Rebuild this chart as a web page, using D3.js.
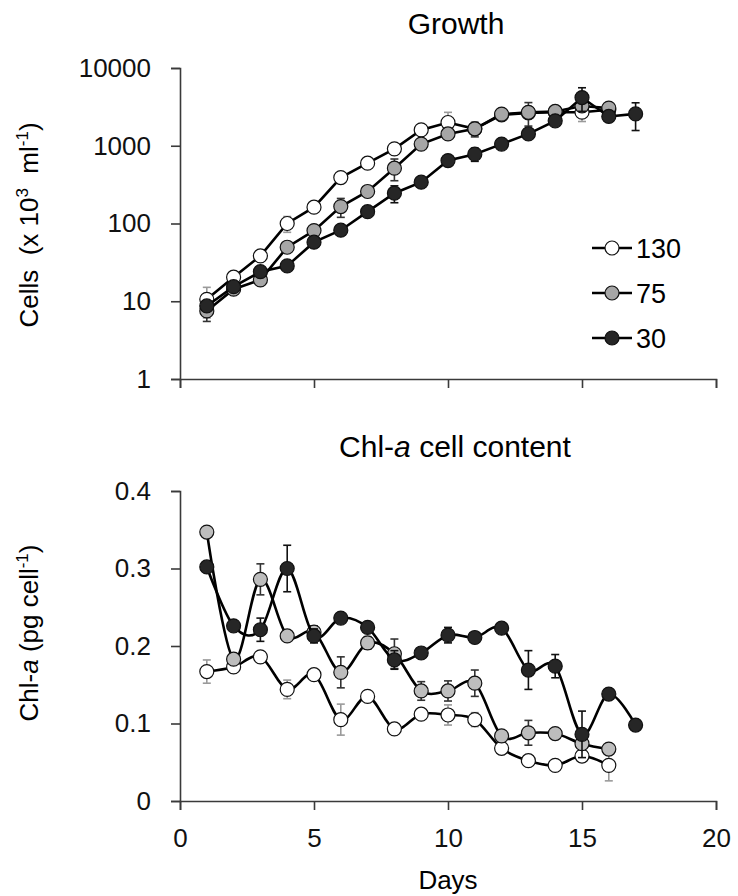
<!DOCTYPE html>
<html>
<head>
<meta charset="utf-8">
<script src="https://cdn.jsdelivr.net/npm/d3@7"></script>
<style>
  body { margin: 0; background: #fff; }
  svg { display: block; font-family: Arial, 'Liberation Sans', sans-serif; }
</style>
</head>
<body>
<div id="chart"></div>
<script>
// days of the culture
const days = [1, 2, 3, 4, 5, 6, 7, 8, 9, 10, 11, 12, 13, 14, 15, 16, 17]

// Growth, cells (x 10^3 ml-1)
const growth130 = [10.6, 20.4, 38.3, 100, 162, 390, 597, 912, 1600, 1990, 1650, 2500, 2650, 2700, 2700, 2900]
const growth130Err = [4.5, null, null, 23, null, null, null, null, null, 700, null, null, null, null, 650, null]
const growth75 = [7.5, 14.3, 18.8, 49.5, 81, 165, 258, 515, 1050, 1420, 1650, 2550, 2690, 2760, 3250, 3050]
const growth75Err = [2, null, null, null, null, 45, null, 160, null, null, 350, null, 900, null, null, null]
const growth30 = [8.7, 15.4, 24, 28.5, 57.5, 82, 142, 245, 340, 645, 780, 1050, 1420, 2090, 4170, 2380, 2570]
const growth30Err = [null, null, null, null, null, null, null, 60, null, null, 150, null, null, null, 1400, null, 1000]

// Chl-a cell content (pg cell-1)
const chl130 = [0.167, 0.173, 0.186, 0.144, 0.163, 0.105, 0.135, 0.093, 0.112, 0.111, 0.105, 0.068, 0.052, 0.046, 0.058, 0.046]
const chl130Err = [0.015, null, 0.007, 0.012, null, 0.02, null, null, null, 0.013, 0.009, null, null, null, null, 0.02]
const chl75 = [0.347, 0.183, 0.286, 0.213, 0.218, 0.166, 0.204, 0.19, 0.142, 0.142, 0.152, 0.084, 0.088, 0.087, 0.074, 0.067]
const chl75Err = [null, 0.005, 0.02, null, 0.008, 0.02, 0.008, 0.019, 0.012, 0.013, 0.017, null, 0.016, null, null, null]
const chl30 = [0.302, 0.226, 0.221, 0.300, 0.213, 0.236, 0.224, 0.182, 0.191, 0.214, 0.211, 0.223, 0.169, 0.174, 0.086, 0.138, 0.098]
const chl30Err = [null, null, 0.015, 0.03, 0.009, null, null, 0.012, null, 0.01, null, null, 0.025, 0.015, 0.03, null, null]

const seriesNames = ['130', '75', '30']
const xTicks = [0, 5, 10, 15, 20]
const growthTicks = [1, 10, 100, 1000, 10000]
const chlTicks = [0, 0.1, 0.2, 0.3, 0.4]

const width = 738
const height = 896
const markerFill = { '130': '#ffffff', '75': '#a6a6a6', '30': '#262626' }
const markerFillChl = { '130': '#ffffff', '75': '#bdbdbd', '30': '#262626' }
const errColor = { '130': '#9a9a9a', '75': '#333', '30': '#111' }

const svg = d3.select('#chart').append('svg')
  .attr('width', width)
  .attr('height', height)

const x = d3.scaleLinear().domain([0, 20]).range([180, 716])
const yGrowth = d3.scaleLog().domain([1, 10000]).range([379, 68])
const yChl = d3.scaleLinear().domain([0, 0.4]).range([801, 491])

const toPoints = (values, errs) => values.map((v, i) => ({ day: days[i], v, err: errs[i] }))

function styleAxis(g) {
  g.selectAll('path.domain').attr('stroke', '#3a3a3a').attr('stroke-width', 1.6)
  g.selectAll('.tick line').attr('stroke', '#3a3a3a').attr('stroke-width', 1.6)
  g.selectAll('.tick text').attr('font-size', 26).attr('fill', '#111')
    .attr('font-family', 'Arial, Liberation Sans, sans-serif')
}

function drawPanel({ y, yTickValues, yFormat, showXLabels, series, curve, fills }) {
  // axes
  svg.append('g')
    .attr('transform', `translate(0,${y.range()[0]})`)
    .call(d3.axisBottom(x).tickValues(xTicks).tickSize(9).tickSizeOuter(9).tickPadding(19)
      .tickFormat(d => showXLabels ? d : ''))
    .call(styleAxis)

  svg.append('g')
    .attr('transform', `translate(${x(0)},0)`)
    .call(d3.axisLeft(y).tickValues(yTickValues).tickSize(9).tickSizeOuter(9).tickPadding(20)
      .tickFormat(yFormat))
    .call(styleAxis)

  const line = d3.line()
    .x(d => x(d.day))
    .y(d => y(d.v))
    .curve(curve)

  series.forEach(({ name, points }) => {
    const g = svg.append('g').attr('class', `series s${name}`)

    const bars = points.filter(d => d.err != null)
    const low = d => y(Math.max(d.v - d.err, y.domain()[0]))
    const high = d => y(d.v + d.err)
    const eb = g.selectAll('g.err').data(bars).join('g')
      .attr('class', 'err')
      .attr('stroke', errColor[name])
      .attr('stroke-width', 1.6)
    eb.append('line')
      .attr('x1', d => x(d.day)).attr('x2', d => x(d.day))
      .attr('y1', low).attr('y2', high)
    eb.append('line')
      .attr('x1', d => x(d.day) - 4).attr('x2', d => x(d.day) + 4)
      .attr('y1', high).attr('y2', high)
    eb.append('line')
      .attr('x1', d => x(d.day) - 4).attr('x2', d => x(d.day) + 4)
      .attr('y1', low).attr('y2', low)

    g.append('path')
      .datum(points)
      .attr('fill', 'none')
      .attr('stroke', '#000')
      .attr('stroke-width', 2.6)
      .attr('d', line)

    g.selectAll('circle')
      .data(points)
      .join('circle')
      .attr('cx', d => x(d.day))
      .attr('cy', d => y(d.v))
      .attr('r', 7)
      .attr('fill', fills[name])
      .attr('stroke', '#111')
      .attr('stroke-width', 1.2)
  })
}

drawPanel({
  y: yGrowth,
  yTickValues: growthTicks,
  yFormat: d => d,
  showXLabels: false,
  curve: d3.curveLinear,
  fills: markerFill,
  series: [
    { name: '130', points: toPoints(growth130, growth130Err) },
    { name: '75', points: toPoints(growth75, growth75Err) },
    { name: '30', points: toPoints(growth30, growth30Err) }
  ]
})

drawPanel({
  y: yChl,
  yTickValues: chlTicks,
  yFormat: d => d === 0 ? '0' : d3.format('.1f')(d),
  showXLabels: true,
  curve: d3.curveCardinal.tension(0),
  fills: markerFillChl,
  series: [
    { name: '130', points: toPoints(chl130, chl130Err) },
    { name: '75', points: toPoints(chl75, chl75Err) },
    { name: '30', points: toPoints(chl30, chl30Err) }
  ]
})

// titles
svg.append('text')
  .attr('x', 456).attr('y', 34)
  .attr('text-anchor', 'middle')
  .attr('font-size', 30)
  .text('Growth')

const chlTitle = svg.append('text')
  .attr('x', 455).attr('y', 457)
  .attr('text-anchor', 'middle')
  .attr('font-size', 30)
chlTitle.append('tspan').text('Chl-')
chlTitle.append('tspan').attr('font-style', 'italic').text('a')
chlTitle.append('tspan').text(' cell content')

// y axis titles (non-breaking spaces keep the double gaps)
const cellsLabel = svg.append('text')
  .attr('transform', 'translate(38,225) rotate(-90)')
  .attr('text-anchor', 'middle')
  .attr('font-size', 26)
cellsLabel.append('tspan').text('Cells\u00a0\u00a0(x 10')
cellsLabel.append('tspan').attr('font-size', 17).attr('dy', -10).text('3')
cellsLabel.append('tspan').attr('dy', 10).text('\u00a0\u00a0ml')
cellsLabel.append('tspan').attr('font-size', 17).attr('dy', -10).text('-1')
cellsLabel.append('tspan').attr('dy', 10).text(')')

const chlLabel = svg.append('text')
  .attr('transform', 'translate(38,633) rotate(-90)')
  .attr('text-anchor', 'middle')
  .attr('font-size', 26)
chlLabel.append('tspan').text('Chl-')
chlLabel.append('tspan').attr('font-style', 'italic').text('a')
chlLabel.append('tspan').text(' (pg cell')
chlLabel.append('tspan').attr('font-size', 17).attr('dy', -10).text('-1')
chlLabel.append('tspan').attr('dy', 10).text(')')

svg.append('text')
  .attr('x', x(10)).attr('y', 889)
  .attr('text-anchor', 'middle')
  .attr('font-size', 26)
  .text('Days')

// legend
const legend = svg.append('g')
  .selectAll('g')
  .data(seriesNames)
  .join('g')
  .attr('transform', (d, i) => `translate(592,${248 + i * 45})`)
legend.append('line')
  .attr('x1', 0).attr('x2', 40)
  .attr('stroke', '#000').attr('stroke-width', 2.6)
legend.append('circle')
  .attr('cx', 20).attr('r', 7)
  .attr('fill', d => markerFill[d])
  .attr('stroke', '#111').attr('stroke-width', 1.2)
legend.append('text')
  .attr('x', 44).attr('y', 10)
  .attr('font-size', 27)
  .text(d => d)
</script>
</body>
</html>
